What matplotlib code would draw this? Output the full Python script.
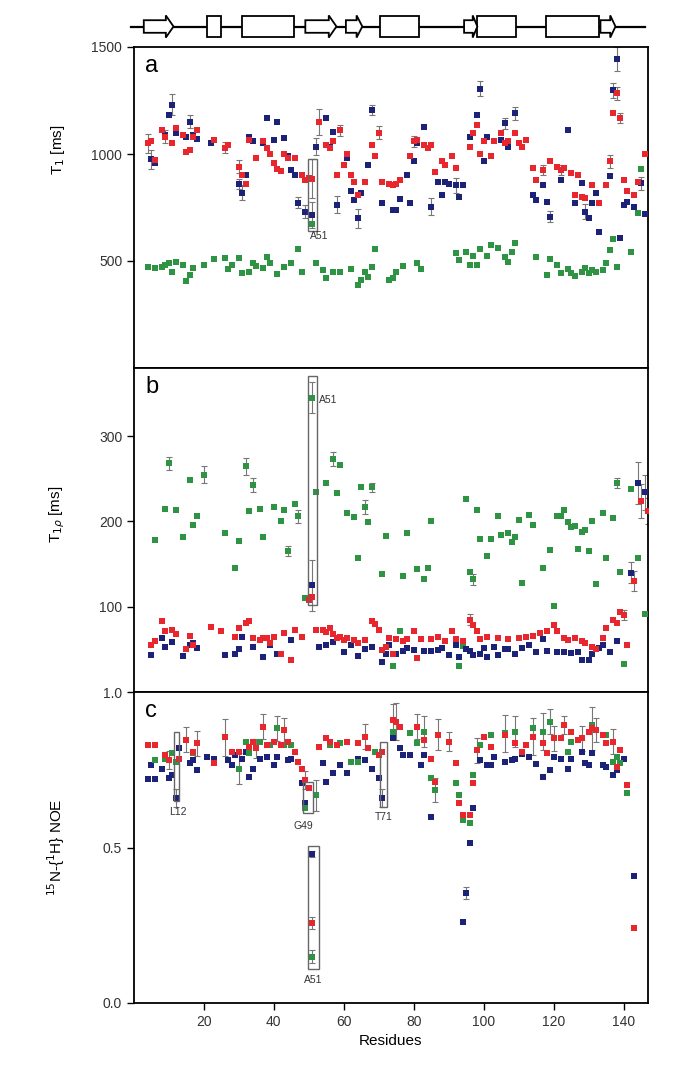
import matplotlib
matplotlib.use("Agg")
import matplotlib.pyplot as plt
from matplotlib.patches import Rectangle, Polygon

plt.rcParams['font.family'] = ['Liberation Sans', 'DejaVu Sans']

# ---------------- secondary structure (residue ranges) ----------------
ss_strands = [(2.8, 11.3), (49.0, 57.9), (60.6, 65.3), (94.4, 98.2), (133.4, 137.7)]
ss_helices = [(21.0, 24.9), (30.8, 45.8), (70.4, 81.5), (98.2, 109.3), (117.8, 132.9)]

# ---------------- panel a : T1 [ms] ----------------
t1_blue_res = [5, 6, 9, 10, 11, 12, 15, 16, 17, 18, 22, 26, 27, 30, 31, 32, 33, 34, 37, 38, 40, 41, 43, 44, 45,
               46, 47, 49, 51, 52, 55, 56, 57, 58, 61, 62, 63, 64, 65, 67, 68, 71, 74, 75, 76, 78, 79, 80, 81,
               83, 85, 87, 88, 89, 90, 92, 93, 94, 96, 98, 99, 100, 101, 105, 106, 107, 109, 114, 115, 117,
               118, 119, 122, 124, 126, 128, 129, 130, 131, 132, 133, 136, 137, 138, 139, 140, 141, 143, 145, 146]
t1_blue = [975, 960, 1090, 1180, 1230, 1100, 1080, 1150, 1090, 1070, 1050, 1030, 1040, 860, 820, 900, 1080, 1060,
           1050, 1170, 1065, 1150, 1075, 990, 925, 900, 773, 731, 715, 1034, 1168, 1034, 1105, 762, 981, 825, 785,
           700, 818, 950, 1206, 770, 738, 740, 790, 902, 770, 965, 1050, 1128, 754, 870, 808, 870, 860, 855, 800,
           855, 1081, 1181, 1306, 965, 1081, 1065, 1143, 1034, 1190, 808, 785, 855, 777, 707, 878, 1112, 770, 863,
           730, 700, 770, 818, 637, 895, 1299, 1444, 607, 762, 777, 754, 863, 720]
t1_red_res = [4, 5, 6, 8, 9, 11, 12, 14, 15, 16, 17, 18, 23, 26, 27, 30, 31, 32, 33, 35, 37, 38, 39, 40, 41, 42,
              43, 44, 46, 48, 49, 50, 51, 53, 55, 56, 57, 58, 59, 60, 61, 62, 63, 64, 66, 68, 69, 70, 71, 73, 74,
              75, 76, 79, 80, 81, 83, 84, 85, 86, 88, 89, 91, 92, 96, 97, 98, 99, 100, 102, 103, 105, 106, 107,
              109, 110, 111, 112, 114, 115, 117, 119, 121, 122, 123, 125, 126, 127, 128, 129, 131, 133, 135, 136,
              137, 138, 139, 140, 141, 143, 144, 146]
t1_red = [1050, 1060, 970, 1110, 1080, 1050, 1120, 1090, 1010, 1020, 1080, 1110, 1065, 1030, 1040, 940, 900, 860,
          1065, 980, 1060, 1030, 1000, 960, 930, 920, 1000, 980, 980, 900, 880, 890, 885, 1150, 1040, 1030, 1060,
          900, 1110, 950, 1000, 900, 870, 810, 870, 1040, 990, 1100, 870, 860, 855, 860, 880, 990, 1060, 1065,
          1040, 1030, 1040, 918, 965, 950, 990, 935, 1034, 1100, 1136, 1000, 1060, 990, 1060, 1097, 1050, 1060,
          1097, 1050, 1034, 1065, 933, 878, 925, 965, 940, 925, 933, 910, 808, 902, 800, 793, 855, 770, 855, 965,
          1190, 1283, 1168, 878, 825, 810, 870, 1000]
t1_green_res = [4, 6, 8, 9, 10, 11, 12, 14, 15, 16, 17, 20, 23, 26, 27, 28, 30, 31, 33, 34, 35, 37, 38, 39, 41,
                43, 45, 47, 48, 51, 52, 54, 55, 57, 59, 62, 64, 65, 66, 67, 68, 69, 73, 74, 75, 77, 81, 82, 92, 93,
                95, 96, 97, 98, 99, 101, 102, 104, 106, 107, 108, 109, 115, 118, 119, 121, 122, 124, 125, 126,
                128, 129, 130, 131, 132, 134, 135, 136, 137, 138, 142, 144, 145]
t1_green = [473, 466, 470, 480, 490, 447, 493, 482, 405, 435, 466, 482, 508, 512, 461, 482, 512, 442, 450, 490, 478,
            466, 517, 490, 440, 473, 490, 556, 447, 675, 490, 458, 420, 450, 450, 461, 388, 412, 447, 427, 470, 556,
            412, 420, 450, 478, 490, 461, 537, 505, 544, 482, 525, 482, 556, 525, 576, 560, 520, 497, 540, 583, 520,
            435, 508, 482, 442, 461, 445, 430, 450, 466, 442, 458, 450, 458, 490, 553, 602, 473, 540, 723, 930]
t1_blue_err = {5: 45, 11: 50, 16: 30, 31: 35, 47: 25, 49: 30, 51: 60, 52: 40, 58: 40, 64: 45, 68: 25,
               85: 40, 92: 35, 99: 35, 109: 30, 129: 35, 137: 35, 138: 55, 145: 30, 30: 25, 106: 25, 119: 25}
t1_red_err = {4: 45, 9: 30, 26: 25, 30: 30, 51: 90, 53: 60, 59: 25, 70: 30, 138: 30, 139: 25, 136: 30,
              80: 25, 117: 25, 122: 25}

# ---------------- panel b : T1rho [ms] ----------------
t1r_green_res = [6, 9, 10, 12, 14, 16, 17, 18, 20, 26, 29, 30, 32, 33, 34, 36, 37, 40, 42, 43, 44, 46, 47, 49, 51,
                 52, 55, 57, 58, 59, 61, 63, 64, 65, 66, 67, 68, 71, 72, 74, 76, 77, 78, 81, 83, 84, 85, 93, 94,
                 95, 96, 97, 98, 99, 101, 102, 104, 105, 107, 108, 109, 110, 111, 113, 114, 117, 119, 120, 121,
                 122, 123, 124, 125, 126, 127, 128, 129, 130, 131, 132, 134, 135, 137, 138, 139, 140, 142, 144, 146]
t1r_green = [178, 215, 268, 213, 182, 249, 196, 206, 255, 187, 145, 177, 265, 212, 243, 215, 182, 217, 200, 214,
             165, 220, 206, 110, 345, 234, 245, 273, 233, 266, 210, 205, 157, 240, 217, 199, 240, 138, 183, 31, 71,
             136, 187, 144, 132, 146, 200, 31, 54, 226, 141, 132, 214, 180, 160, 180, 207, 184, 187, 176, 182, 202,
             128, 208, 196, 146, 167, 101, 207, 207, 214, 199, 193, 195, 168, 188, 190, 165, 200, 127, 210, 157,
             204, 245, 141, 33, 238, 157, 91]
t1r_red_res = [5, 6, 8, 9, 11, 12, 15, 16, 17, 22, 25, 29, 30, 32, 33, 34, 36, 37, 38, 39, 40, 42, 43, 45, 46, 48,
               50, 51, 52, 54, 55, 56, 57, 58, 59, 60, 61, 63, 64, 66, 68, 69, 70, 71, 72, 73, 74, 75, 77, 78, 80,
               81, 82, 85, 87, 89, 91, 92, 94, 96, 97, 98, 99, 101, 104, 107, 110, 112, 114, 116, 118, 120, 121,
               123, 124, 126, 128, 129, 131, 132, 134, 135, 137, 138, 139, 140, 141, 143, 145, 147]
t1r_red = [55, 60, 83, 71, 73, 68, 51, 66, 55, 76, 72, 65, 75, 81, 83, 63, 61, 63, 63, 57, 65, 45, 69, 37, 73, 65,
           108, 112, 73, 73, 70, 75, 68, 63, 65, 61, 63, 61, 58, 61, 83, 80, 73, 49, 53, 63, 44, 62, 60, 62, 71,
           40, 62, 62, 64, 60, 71, 62, 60, 85, 78, 72, 62, 64, 63, 62, 63, 64, 66, 69, 71, 79, 72, 63, 61, 63, 60,
           57, 53, 50, 63, 75, 85, 81, 94, 90, 55, 130, 224, 212]
t1r_blue_res = [5, 8, 9, 11, 14, 16, 17, 18, 26, 29, 30, 31, 34, 37, 39, 41, 45, 51, 53, 55, 57, 60, 62, 64, 66,
                68, 71, 72, 73, 75, 77, 78, 80, 83, 85, 87, 88, 90, 92, 93, 95, 96, 97, 99, 100, 101, 103, 104,
                106, 107, 109, 111, 113, 115, 117, 118, 121, 123, 125, 127, 128, 130, 131, 133, 134, 136, 138,
                142, 144, 146]
t1r_blue = [43, 63, 53, 59, 42, 55, 57, 52, 43, 45, 51, 65, 53, 41, 55, 45, 61, 125, 53, 55, 59, 47, 55, 42, 51,
            53, 35, 44, 55, 45, 48, 52, 49, 48, 48, 49, 52, 43, 55, 41, 50, 48, 43, 45, 52, 41, 53, 43, 50, 51,
            45, 52, 55, 47, 62, 48, 47, 47, 46, 47, 38, 38, 45, 52, 55, 47, 60, 140, 245, 234]
t1r_green_err = {10: 8, 20: 10, 32: 10, 34: 8, 44: 6, 47: 8, 51: 18, 57: 8, 66: 8, 68: 5, 97: 6, 138: 6}
t1r_blue_err = {51: 30, 142: 12, 144: 25, 146: 20}
t1r_red_err = {143: 12, 145: 20, 147: 15, 96: 6, 140: 6}

# ---------------- panel c : 15N-{1H} NOE ----------------
noe_red_res = [4, 6, 9, 10, 13, 15, 17, 18, 23, 26, 28, 30, 33, 34, 35, 37, 38, 40, 42, 43, 44, 46, 47, 48, 49,
               50, 51, 53, 55, 56, 58, 61, 64, 66, 67, 70, 71, 74, 75, 76, 81, 83, 85, 86, 87, 90, 92, 93, 94,
               96, 97, 98, 100, 102, 106, 109, 111, 112, 114, 117, 118, 120, 122, 123, 125, 127, 128, 130, 131,
               132, 134, 135, 137, 138, 139, 141, 143]
noe_red = [0.83, 0.829, 0.797, 0.781, 0.786, 0.846, 0.808, 0.835, 0.771, 0.854, 0.808, 0.808, 0.824, 0.840, 0.819,
           0.888, 0.829, 0.840, 0.829, 0.878, 0.840, 0.808, 0.776, 0.754, 0.717, 0.69, 0.258, 0.824, 0.851, 0.840,
           0.829, 0.840, 0.835, 0.856, 0.819, 0.797, 0.808, 0.910, 0.905, 0.888, 0.888, 0.846, 0.786, 0.711, 0.862,
           0.840, 0.771, 0.642, 0.604, 0.604, 0.706, 0.813, 0.856, 0.824, 0.862, 0.835, 0.808, 0.829, 0.856, 0.835,
           0.803, 0.851, 0.851, 0.894, 0.872, 0.846, 0.851, 0.872, 0.883, 0.878, 0.862, 0.835, 0.840, 0.760, 0.813,
           0.701, 0.24]
noe_blue_res = [4, 5, 6, 8, 10, 11, 12, 13, 16, 17, 18, 21, 23, 27, 28, 29, 31, 32, 33, 34, 36, 38, 40, 41, 44,
                45, 48, 49, 51, 54, 55, 57, 59, 61, 64, 66, 68, 70, 71, 74, 76, 77, 79, 82, 83, 85, 94, 95, 96,
                97, 99, 101, 102, 103, 106, 108, 109, 111, 113, 115, 117, 119, 120, 122, 124, 125, 128, 129,
                130, 131, 134, 135, 137, 138, 140, 143]
noe_blue = [0.719, 0.765, 0.719, 0.751, 0.722, 0.733, 0.659, 0.819, 0.771, 0.781, 0.749, 0.792, 0.786, 0.781,
            0.765, 0.797, 0.786, 0.808, 0.727, 0.754, 0.786, 0.792, 0.765, 0.792, 0.781, 0.786, 0.706, 0.643, 0.479,
            0.771, 0.711, 0.738, 0.765, 0.738, 0.786, 0.781, 0.754, 0.722, 0.659, 0.851, 0.819, 0.797, 0.797, 0.765,
            0.797, 0.599, 0.261, 0.354, 0.515, 0.626, 0.781, 0.765, 0.765, 0.792, 0.776, 0.781, 0.786, 0.80, 0.79,
            0.77, 0.728, 0.749, 0.792, 0.786, 0.754, 0.786, 0.808, 0.771, 0.765, 0.803, 0.765, 0.760, 0.733, 0.749,
            0.786, 0.408]
noe_green_res = [6, 9, 11, 12, 17, 30, 32, 33, 36, 39, 41, 43, 45, 49, 51, 52, 56, 59, 62, 64, 69, 74, 79, 81,
                 83, 85, 86, 92, 93, 94, 96, 97, 99, 102, 106, 109, 114, 117, 119, 124, 125, 131, 135, 137, 138,
                 139, 141]
noe_green = [0.781, 0.786, 0.803, 0.776, 0.803, 0.754, 0.840, 0.803, 0.840, 0.829, 0.883, 0.829, 0.83, 0.627,
             0.149, 0.668, 0.829, 0.835, 0.776, 0.776, 0.808, 0.872, 0.867, 0.835, 0.872, 0.722, 0.685, 0.706,
             0.668, 0.589, 0.578, 0.733, 0.829, 0.862, 0.867, 0.872, 0.883, 0.872, 0.905, 0.808, 0.840, 0.894,
             0.862, 0.776, 0.792, 0.771, 0.674]
noe_red_err = {15: 0.04, 18: 0.04, 26: 0.06, 37: 0.04, 43: 0.04, 49: 0.03, 51: 0.02, 66: 0.04, 74: 0.05,
               75: 0.06, 81: 0.04, 87: 0.05, 98: 0.04, 114: 0.06, 123: 0.03, 131: 0.07, 132: 0.04, 137: 0.04,
               10: 0.03, 35: 0.03, 90: 0.03, 120: 0.04, 128: 0.04}
noe_green_err = {30: 0.05, 52: 0.05, 83: 0.05, 106: 0.06, 109: 0.05, 117: 0.06, 51: 0.02, 86: 0.04,
                 41: 0.04, 119: 0.04}
noe_blue_err = {12: 0.03, 71: 0.03, 51: 0.01, 95: 0.02}

# ---------------- annotation boxes: (panel, res_lo, res_hi, y_lo, y_hi, label, label_res, label_y, ha)
boxes = [("a", 49.9, 52.2, 642, 977, "A51", 53.0, 617, "center"),
         ("b", 49.9, 52.2, 102, 371, "A51", 53.0, 343, "left"),
         ("c", 11.4, 12.9, 0.65, 0.87, "L12", 12.6, 0.615, "center"),
         ("c", 48.3, 51.1, 0.61, 0.71, "G49", 48.4, 0.57, "center"),
         ("c", 70.4, 72.3, 0.63, 0.84, "T71", 71.3, 0.598, "center"),
         ("c", 49.9, 52.9, 0.109, 0.505, "A51", 51.3, 0.074, "center")]

BLUE = '#1c2278'
RED = '#e8262e'
GREEN = '#2e9444'

fig = plt.figure(figsize=(6.8, 10.86), dpi=100)
W, H = 680.0, 1086.0
L, R = 134 / W, 648 / W


def add_ax(top_px, bot_px):
    return fig.add_axes([L, 1 - bot_px / H, R - L, (bot_px - top_px) / H])


ax_ss = add_ax(8, 45)
ax_a = add_ax(47, 368)
ax_b = add_ax(368, 692)
ax_c = add_ax(692, 1003)

# secondary structure
ax_ss.set_xlim(0, 147)
ax_ss.set_ylim(0, 1)
ax_ss.axis('off')
ax_ss.plot([-1, 146], [0.5, 0.5], color='black', lw=1.6, clip_on=False, zorder=1)
for (s, e) in ss_helices:
    ax_ss.add_patch(Rectangle((s, 0.22), e - s, 0.56, facecolor='white', edgecolor='black', lw=1.3, zorder=2))
for (s, e) in ss_strands:
    hl = min(2.2, 0.35 * (e - s))
    pts = [(s, 0.33), (e - hl, 0.33), (e - hl, 0.2), (e, 0.5), (e - hl, 0.8), (e - hl, 0.67), (s, 0.67)]
    ax_ss.add_patch(Polygon(pts, closed=True, facecolor='white', edgecolor='black', lw=1.3, zorder=3))


def scatter_series(ax, res, vals, color, err=None):
    if err:
        lookup = dict(zip(res, vals))
        er = [r for r in err if r in lookup]
        ax.errorbar(er, [lookup[r] for r in er], yerr=[err[r] for r in er], fmt='none',
                    ecolor='#777777', elinewidth=0.8, capsize=2, capthick=0.8, zorder=2)
    ax.plot(res, vals, linestyle='none', marker='s', markersize=3.9, color=color,
            markeredgewidth=0, zorder=3)


scatter_series(ax_a, t1_green_res, t1_green, GREEN)
scatter_series(ax_a, t1_blue_res, t1_blue, BLUE, t1_blue_err)
scatter_series(ax_a, t1_red_res, t1_red, RED, t1_red_err)

scatter_series(ax_b, t1r_green_res, t1r_green, GREEN, t1r_green_err)
scatter_series(ax_b, t1r_blue_res, t1r_blue, BLUE, t1r_blue_err)
scatter_series(ax_b, t1r_red_res, t1r_red, RED, t1r_red_err)

scatter_series(ax_c, noe_blue_res, noe_blue, BLUE, noe_blue_err)
scatter_series(ax_c, noe_green_res, noe_green, GREEN, noe_green_err)
scatter_series(ax_c, noe_red_res, noe_red, RED, noe_red_err)

axes = {"a": ax_a, "b": ax_b, "c": ax_c}
for (p, x0, x1, y0, y1, lab, lx, ly, ha) in boxes:
    ax = axes[p]
    ax.add_patch(Rectangle((x0, y0), x1 - x0, y1 - y0, fill=False, edgecolor='#666666', lw=1.0, zorder=4))
    ax.text(lx, ly, lab, fontsize=7.5, color='#333333', ha=ha, va='center', zorder=5)

ax_a.set_ylim(0, 1500)
ax_a.set_yticks([500, 1000, 1500])
ax_b.set_ylim(0, 380)
ax_b.set_yticks([100, 200, 300])
ax_c.set_ylim(0, 1.0)
ax_c.set_yticks([0.0, 0.5, 1.0])
ax_c.set_yticklabels(['0.0', '0.5', '1.0'])

for ax, lab in zip([ax_a, ax_b, ax_c], ['a', 'b', 'c']):
    ax.set_xlim(0, 147)
    ax.set_xticks([20, 40, 60, 80, 100, 120, 140])
    for s in ax.spines.values():
        s.set_linewidth(1.3)
    ax.tick_params(axis='y', direction='out', length=5, width=1.0, labelsize=10, labelcolor='#333333')
    ax.tick_params(axis='x', direction='out', length=5, width=1.0, labelsize=10, labelcolor='#333333')
    ax.text(0.022, 0.975, lab, transform=ax.transAxes, fontsize=17, ha='left', va='top')
    if ax is not ax_c:
        ax.tick_params(axis='x', bottom=False, labelbottom=False)

ax_a.set_ylabel('T$_1$ [ms]', fontsize=11)
ax_a.yaxis.set_label_coords(-0.13, 0.68)
ax_b.set_ylabel(r'T$_{1\rho}$ [ms]', fontsize=11)
ax_b.yaxis.set_label_coords(-0.13, 0.55)
ax_c.set_ylabel('$^{15}$N-{$^1$H} NOE', fontsize=11)
ax_c.yaxis.set_label_coords(-0.13, 0.5)
ax_c.set_xlabel('Residues', fontsize=11)

fig.savefig('out.png', dpi=100)
